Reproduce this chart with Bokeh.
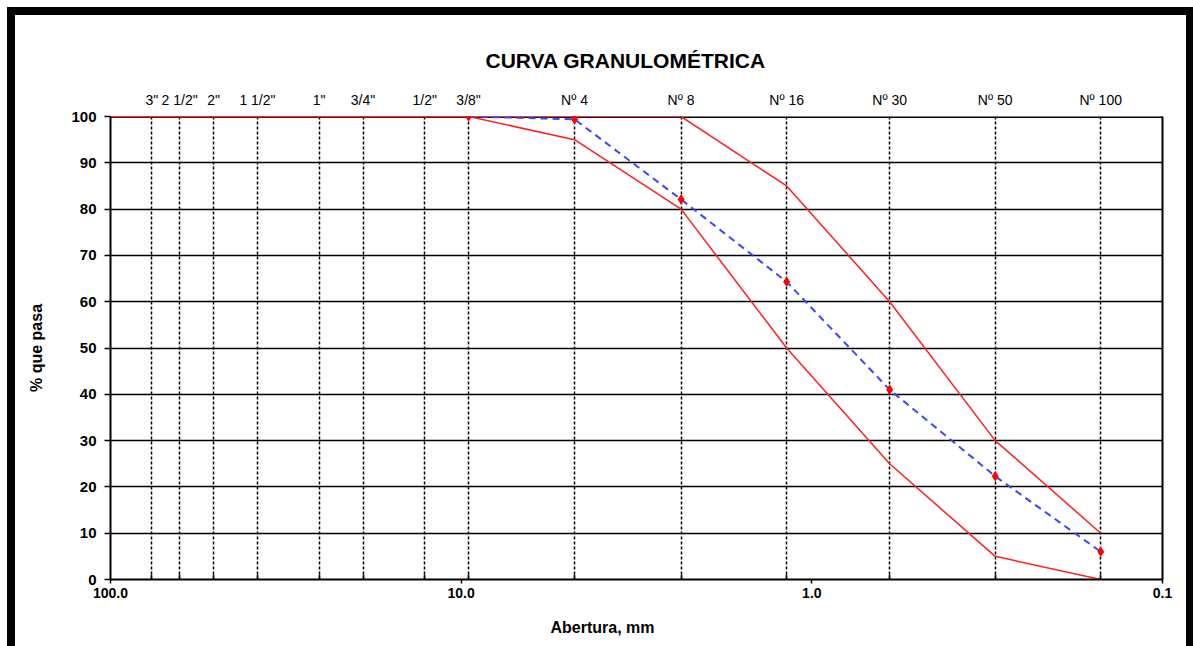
from bokeh.plotting import figure
from bokeh.models import Range1d, FixedTicker, LinearAxis, LogAxis, Title, Span
from bokeh.layouts import column
from bokeh.embed import file_html
from bokeh.resources import INLINE

# ---- data ----
sieve_labels = ['3"', '2 1/2"', '2"', '1 1/2"', '1"', '3/4"', '1/2"', '3/8"',
                'Nº 4', 'Nº 8', 'Nº 16', 'Nº 30', 'Nº 50', 'Nº 100']
sieve_mm = [76.2, 63.5, 50.8, 38.1, 25.4, 19.05, 12.7, 9.525,
            4.75, 2.36, 1.18, 0.6, 0.3, 0.15]

sample_mm = [9.525, 4.75, 2.36, 1.18, 0.6, 0.3, 0.15]
sample_pass = [100, 99.4, 82.1, 64.3, 41.0, 22.3, 6.0]

spec_mm = [100, 9.525, 4.75, 2.36, 1.18, 0.6, 0.3, 0.15]
spec_upper = [100, 100, 100, 100, 85, 60, 30, 10]
spec_lower = [100, 100, 95, 80, 50, 25, 5, 0]

x_ticks = [100, 10, 1, 0.1]
x_tick_labels = ["100.0", "10.0", "1.0", "0.1"]
y_ticks = list(range(0, 101, 10))

FONT = "Liberation Sans"
RED = "#ff2020"

p = figure(width=1171, height=636, x_axis_type="log",
           x_range=Range1d(100, 0.1), y_range=Range1d(0, 100),
           output_backend="svg", toolbar_location=None,
           min_border_left=95, min_border_right=24,
           min_border_top=101, min_border_bottom=72,
           background_fill_color="white", border_fill_color="white")
p.outline_line_color = None

# title
p.title.text = "CURVA GRANULOMÉTRICA"
p.title.text_font = FONT
p.title.text_font_size = "21px"
p.title.text_font_style = "bold"
p.title.text_color = "black"
p.title.align = "left"
p.title.offset = 375
p.title.standoff = 34

# bottom axis
xa = p.xaxis[0]
xa.ticker = FixedTicker(ticks=x_ticks, minor_ticks=sieve_mm)
xa.major_label_overrides = {t: l for t, l in zip(x_ticks, x_tick_labels)}
xa.major_label_text_font = FONT
xa.major_label_text_font_size = "14px"
xa.major_label_text_font_style = "bold"
xa.major_label_text_color = "black"
xa.major_tick_in = 0
xa.major_tick_out = 4
xa.minor_tick_in = 5
xa.minor_tick_out = 0
xa.axis_line_width = 2
xa.axis_line_color = "black"
xa.major_tick_line_width = 1.5
xa.minor_tick_line_width = 1.5
xa.major_label_standoff = 4

xlabel = Title(text="Abertura, mm", align="left", offset=440,
               text_font=FONT, text_font_size="16px", text_font_style="bold",
               text_color="black", standoff=32)
p.add_layout(xlabel, "below")

# left axis
ya = p.yaxis[0]
ya.ticker = FixedTicker(ticks=y_ticks)
ya.minor_tick_line_color = None
ya.major_tick_in = 0
ya.major_tick_out = 6
ya.major_tick_line_width = 1.5
ya.axis_line_width = 2
ya.axis_line_color = "black"
ya.major_label_text_font = FONT
ya.major_label_text_font_size = "15px"
ya.major_label_text_font_style = "bold"
ya.major_label_text_color = "black"
ya.major_label_standoff = 8
ya.axis_label = "% que pasa"
ya.axis_label_text_font = FONT
ya.axis_label_text_font_size = "16px"
ya.axis_label_text_font_style = "bold"
ya.axis_label_text_color = "black"
ya.axis_label_standoff = 23

# top axis with sieve names
ta = LogAxis(ticker=FixedTicker(ticks=sieve_mm))
ta.major_label_overrides = {t: l for t, l in zip(sieve_mm, sieve_labels)}
ta.major_label_text_font = FONT
ta.major_label_text_font_size = "14px"
ta.major_label_text_color = "black"
ta.major_tick_in = 0
ta.major_tick_out = 0
ta.minor_tick_line_color = None
ta.axis_line_color = None
ta.major_label_standoff = 9
p.add_layout(ta, "above")

# right border
ra = LinearAxis(ticker=FixedTicker(ticks=[]))
ra.major_label_text_font_size = "0px"
ra.major_tick_line_color = None
ra.minor_tick_line_color = None
ra.axis_line_width = 2
ra.axis_line_color = "black"
p.add_layout(ra, "right")

# grids
p.ygrid.ticker = FixedTicker(ticks=y_ticks)
p.ygrid.grid_line_color = "black"
p.ygrid.grid_line_width = 1.5
p.ygrid.grid_line_alpha = 1
p.xgrid.ticker = FixedTicker(ticks=sieve_mm)
p.xgrid.grid_line_color = "black"
p.xgrid.grid_line_width = 1.5
p.xgrid.grid_line_dash = "3 2"

top_border = Span(location=100, dimension="width", line_color="black",
                  line_width=3, level="underlay")
p.add_layout(top_border)

# spec limits
p.line(spec_mm, spec_upper, line_color=RED, line_width=1.5)
p.line(spec_mm, spec_lower, line_color=RED, line_width=1.5)

# sample curve
p.line(sample_mm, sample_pass, line_color="#3a46ff", line_width=2,
       line_dash="7 5")
p.scatter(sample_mm, sample_pass, marker="diamond", size=9,
          fill_color="red", line_color="red")

layout = column(p, styles={
    "margin-left": "7px", "margin-top": "7px",
    "border-left": "8px solid black", "border-top": "8px solid black",
    "border-right": "7px solid black", "border-bottom": "8px solid black",
})

open("out.html", "w").write(file_html(layout, INLINE))
